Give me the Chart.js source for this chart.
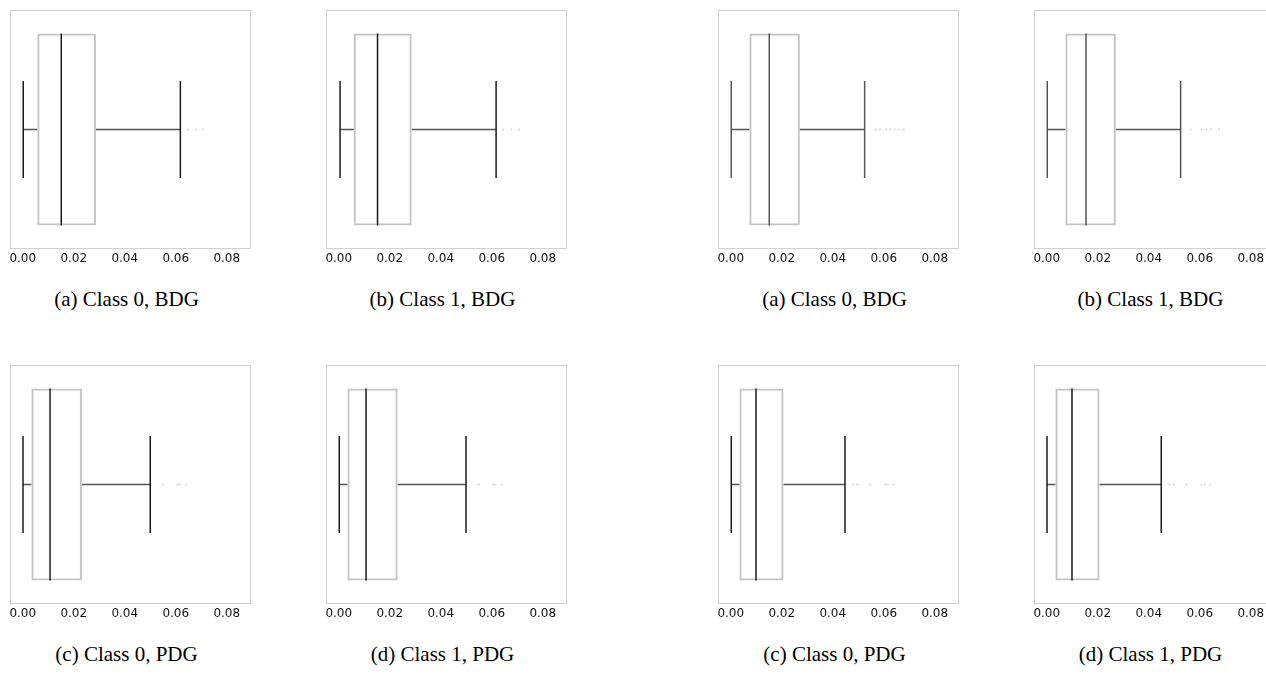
<!DOCTYPE html>
<html>
<head>
<meta charset="utf-8">
<script src="https://cdn.jsdelivr.net/npm/chart.js@4.4.1/dist/chart.umd.min.js"></script>
<style>
  html, body { margin: 0; padding: 0; background: #fff; overflow: hidden; }
  body { width: 1266px; height: 675px; position: relative; }
  canvas { position: absolute; }
  .cap { position: absolute; width: 300px; text-align: center; font-family: "Liberation Serif", "Times New Roman", serif; font-size: 21px; color: #000; line-height: 24px; }
</style>
</head>
<body>
<script>
// panel captions (reading order: top row, then bottom row)
const captions = ["(a) Class 0, BDG", "(b) Class 1, BDG", "(a) Class 0, BDG", "(b) Class 1, BDG",
                  "(c) Class 0, PDG", "(d) Class 1, PDG", "(c) Class 0, PDG", "(d) Class 1, PDG"];

// box plot statistics per panel
const whiskerLow  = [0.0002, 0.0005, 0.0002, 0.0002, 0.0001, 0.0002, 0.0002, 0.0001];
const q1          = [0.0057, 0.0059, 0.0073, 0.0073, 0.0034, 0.0034, 0.0034, 0.0034];
const median      = [0.0151, 0.0152, 0.0151, 0.0154, 0.0107, 0.0107, 0.0099, 0.0099];
const q3          = [0.0287, 0.0286, 0.0271, 0.0271, 0.0232, 0.0231, 0.0207, 0.0207];
const whiskerHigh = [0.0618, 0.0617, 0.0525, 0.0525, 0.0500, 0.0499, 0.0448, 0.0449];
const outliers = [
  [0.0647, 0.0678, 0.0706],
  [0.0645, 0.0677, 0.0707],
  [0.0567, 0.0585, 0.0610, 0.0625, 0.0643, 0.0658, 0.0678],
  [0.0564, 0.0606, 0.0626, 0.0645, 0.0675],
  [0.0549, 0.0607, 0.0616, 0.0639],
  [0.0549, 0.0606, 0.0615, 0.0639],
  [0.0479, 0.0496, 0.0547, 0.0606, 0.0616, 0.0639],
  [0.0481, 0.0498, 0.0547, 0.0606, 0.0619, 0.0639]
];

const tickValues = [0, 0.02, 0.04, 0.06, 0.08];

// layout of the 2x4 grid (frame = plot area)
const colLeft = [10, 326, 718, 1034];
const rowTop = [10, 365];
const frameW = 241, frameH = 239;
const lineColor = ["#1a1a1a", "#1a1a1a", "#555", "#555", "#1a1a1a", "#1a1a1a", "#1a1a1a", "#1a1a1a"];

// light grey border around the plot area
const framePlugin = {
  id: "frame",
  beforeDatasetsDraw(chart) {
    const a = chart.chartArea, ctx = chart.ctx;
    ctx.save();
    ctx.strokeStyle = "#d0d0d0";
    ctx.lineWidth = 1;
    ctx.strokeRect(Math.round(a.left) + 0.5, Math.round(a.top) + 0.5, Math.round(a.width) - 1, Math.round(a.height) - 1);
    ctx.restore();
  }
};

captions.forEach((cap, i) => {
  const col = i % 4, row = Math.floor(i / 4);
  const canvas = document.createElement("canvas");
  const cw = frameW + 20, ch = frameH + 10 + 21;
  canvas.width = cw;
  canvas.height = ch;
  canvas.style.width = cw + "px";
  canvas.style.height = ch + "px";
  canvas.style.left = (colLeft[col] - 10) + "px";
  canvas.style.top = (rowTop[row] - 10) + "px";
  document.body.appendChild(canvas);

  const cd = document.createElement("div");
  cd.className = "cap";
  cd.textContent = cap;
  cd.style.left = (colLeft[col] + frameW / 2 - 154) + "px";
  cd.style.top = (rowTop[row] + 277) + "px";
  document.body.appendChild(cd);

  const lab = "box";
  const pt = v => ({ x: v, y: lab });

  new Chart(canvas.getContext("2d"), {
    type: "bar",
    data: {
      labels: [lab],
      datasets: [
        {
          type: "bar",
          data: [[q1[i], q3[i]]],
          backgroundColor: "rgba(255,255,255,0)",
          borderColor: "#c4c4c4",
          borderWidth: 2,
          borderSkipped: false,
          barPercentage: 0.803,
          categoryPercentage: 1,
          order: 5
        },
        {
          type: "line",
          data: [pt(whiskerLow[i]), pt(q1[i])],
          borderColor: "#555",
          borderWidth: 1.5,
          pointRadius: 0,
          order: 1
        },
        {
          type: "line",
          data: [pt(q3[i]), pt(whiskerHigh[i])],
          borderColor: "#555",
          borderWidth: 1.5,
          pointRadius: 0,
          order: 1
        },
        {
          // whisker caps
          type: "line",
          data: [pt(whiskerLow[i]), pt(whiskerHigh[i])],
          showLine: false,
          pointStyle: "line",
          pointRotation: 90,
          pointRadius: 48.5,
          pointBorderColor: lineColor[i],
          pointBorderWidth: 1.5,
          order: 0
        },
        {
          // median
          type: "line",
          data: [pt(median[i])],
          showLine: false,
          pointStyle: "line",
          pointRotation: 90,
          pointRadius: 96,
          pointBorderColor: lineColor[i],
          pointBorderWidth: 1.5,
          order: 0
        },
        {
          type: "line",
          data: outliers[i].map(pt),
          showLine: false,
          pointStyle: "circle",
          pointRadius: 1.1,
          pointBorderWidth: 0,
          pointBackgroundColor: "#d6d6d6",
          order: 0
        }
      ]
    },
    options: {
      indexAxis: "y",
      responsive: false,
      animation: false,
      events: [],
      layout: { autoPadding: false, padding: { left: 10, right: 10, top: 10, bottom: 0 } },
      plugins: { legend: { display: false }, tooltip: { enabled: false } },
      scales: {
        x: {
          type: "linear",
          min: -0.005,
          max: 0.0895,
          afterBuildTicks: s => { s.ticks = tickValues.map(v => ({ value: v })); },
          afterFit: s => { s.height = 21; },
          grid: { display: false, drawTicks: false },
          border: { display: false },
          ticks: {
            padding: 3,
            color: "#111",
            font: { family: "DejaVu Sans", size: 12 },
            maxRotation: 0,
            callback: v => v.toFixed(2)
          }
        },
        y: { type: "category", display: false }
      }
    },
    plugins: [framePlugin]
  });
});
</script>
</body>
</html>
